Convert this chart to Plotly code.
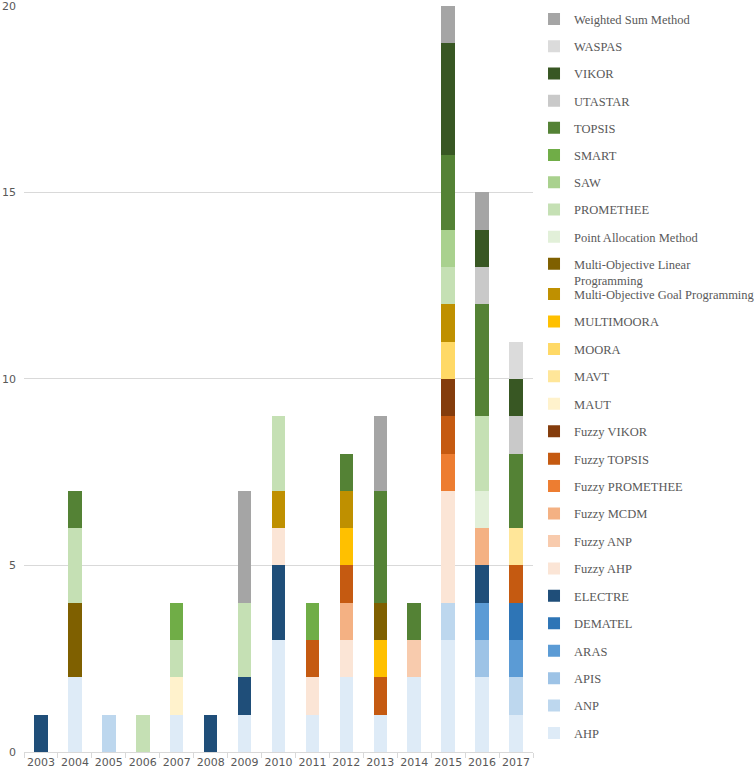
import plotly.graph_objects as go

years = [str(y) for y in range(2003, 2018)]

methods = [
    "AHP", "ANP", "APIS", "ARAS", "DEMATEL", "ELECTRE",
    "Fuzzy AHP", "Fuzzy ANP", "Fuzzy MCDM", "Fuzzy PROMETHEE", "Fuzzy TOPSIS", "Fuzzy VIKOR",
    "MAUT", "MAVT", "MOORA", "MULTIMOORA",
    "Multi-Objective Goal Programming", "Multi-Objective Linear<br>Programming",
    "Point Allocation Method", "PROMETHEE", "SAW", "SMART", "TOPSIS",
    "UTASTAR", "VIKOR", "WASPAS", "Weighted Sum Method",
]

colors = [
    "#DEEBF7", "#BDD7EE", "#9DC3E6", "#5B9BD5", "#2E75B6", "#1F4E79",
    "#FBE5D6", "#F8CBAD", "#F4B183", "#ED7D31", "#C55A11", "#843C0C",
    "#FFF2CC", "#FFE699", "#FFD966", "#FFC000",
    "#BF9000", "#7F6000",
    "#E2F0D9", "#C5E0B4", "#A9D18E", "#70AD47", "#548235",
    "#C9C9C9", "#385723", "#DBDBDB", "#A5A5A5",
]

#                 2003 04 05 06 07 08 09 10 11 12 13 14 15 16 17
AHP              = [0, 2, 0, 0, 1, 0, 1, 3, 1, 2, 1, 2, 3, 2, 1]
ANP              = [0, 0, 1, 0, 0, 0, 0, 0, 0, 0, 0, 0, 1, 0, 1]
APIS             = [0, 0, 0, 0, 0, 0, 0, 0, 0, 0, 0, 0, 0, 1, 0]
ARAS             = [0, 0, 0, 0, 0, 0, 0, 0, 0, 0, 0, 0, 0, 1, 1]
DEMATEL          = [0, 0, 0, 0, 0, 0, 0, 0, 0, 0, 0, 0, 0, 0, 1]
ELECTRE          = [1, 0, 0, 0, 0, 1, 1, 2, 0, 0, 0, 0, 0, 1, 0]
FUZZY_AHP        = [0, 0, 0, 0, 0, 0, 0, 1, 1, 1, 0, 0, 3, 0, 0]
FUZZY_ANP        = [0, 0, 0, 0, 0, 0, 0, 0, 0, 0, 0, 1, 0, 0, 0]
FUZZY_MCDM       = [0, 0, 0, 0, 0, 0, 0, 0, 0, 1, 0, 0, 0, 1, 0]
FUZZY_PROMETHEE  = [0, 0, 0, 0, 0, 0, 0, 0, 0, 0, 0, 0, 1, 0, 0]
FUZZY_TOPSIS     = [0, 0, 0, 0, 0, 0, 0, 0, 1, 1, 1, 0, 1, 0, 1]
FUZZY_VIKOR      = [0, 0, 0, 0, 0, 0, 0, 0, 0, 0, 0, 0, 1, 0, 0]
MAUT             = [0, 0, 0, 0, 1, 0, 0, 0, 0, 0, 0, 0, 0, 0, 0]
MAVT             = [0, 0, 0, 0, 0, 0, 0, 0, 0, 0, 0, 0, 0, 0, 1]
MOORA            = [0, 0, 0, 0, 0, 0, 0, 0, 0, 0, 0, 0, 1, 0, 0]
MULTIMOORA       = [0, 0, 0, 0, 0, 0, 0, 0, 0, 1, 1, 0, 0, 0, 0]
MO_GOAL          = [0, 0, 0, 0, 0, 0, 0, 1, 0, 1, 0, 0, 1, 0, 0]
MO_LINEAR        = [0, 2, 0, 0, 0, 0, 0, 0, 0, 0, 1, 0, 0, 0, 0]
POINT_ALLOCATION = [0, 0, 0, 0, 0, 0, 0, 0, 0, 0, 0, 0, 0, 1, 0]
PROMETHEE        = [0, 2, 0, 1, 1, 0, 2, 2, 0, 0, 0, 0, 1, 2, 0]
SAW              = [0, 0, 0, 0, 0, 0, 0, 0, 0, 0, 0, 0, 1, 0, 0]
SMART            = [0, 0, 0, 0, 1, 0, 0, 0, 1, 0, 0, 0, 0, 0, 0]
TOPSIS           = [0, 1, 0, 0, 0, 0, 0, 0, 0, 1, 3, 1, 2, 3, 2]
UTASTAR          = [0, 0, 0, 0, 0, 0, 0, 0, 0, 0, 0, 0, 0, 1, 1]
VIKOR            = [0, 0, 0, 0, 0, 0, 0, 0, 0, 0, 0, 0, 3, 1, 1]
WASPAS           = [0, 0, 0, 0, 0, 0, 0, 0, 0, 0, 0, 0, 0, 0, 1]
WEIGHTED_SUM     = [0, 0, 0, 0, 0, 0, 3, 0, 0, 0, 2, 0, 1, 1, 0]

series = [
    AHP, ANP, APIS, ARAS, DEMATEL, ELECTRE,
    FUZZY_AHP, FUZZY_ANP, FUZZY_MCDM, FUZZY_PROMETHEE, FUZZY_TOPSIS, FUZZY_VIKOR,
    MAUT, MAVT, MOORA, MULTIMOORA, MO_GOAL, MO_LINEAR,
    POINT_ALLOCATION, PROMETHEE, SAW, SMART, TOPSIS,
    UTASTAR, VIKOR, WASPAS, WEIGHTED_SUM,
]

y_ticks = [0, 5, 10, 15, 20]

# the upper legend block ends with the two-line entry
split_index = methods.index("Multi-Objective Linear<br>Programming")

n = len(methods)
fig = go.Figure()
for i, (name, vals, col) in enumerate(zip(methods, series, colors)):
    fig.add_trace(go.Bar(
        x=years,
        y=[v if v else None for v in vals],
        name=name,
        marker=dict(color=col, line=dict(width=0)),
        legendgroup="g%d" % i,
        legendrank=(n - i) * 10,
        legend="legend" if i >= split_index else "legend2",
    ))

legend_common = dict(
    traceorder="grouped",
    x=1.002, xanchor="left",
    yanchor="top",
    font=dict(family="Liberation Serif", size=12.5, color="#595959"),
    valign="top",
    bgcolor="rgba(0,0,0,0)",
)

fig.update_layout(
    width=754, height=773,
    barmode="stack",
    bargap=0.6,
    hovermode=False,
    plot_bgcolor="white",
    paper_bgcolor="white",
    margin=dict(l=24, r=221, t=5, b=21, autoexpand=False),
    font=dict(family="DejaVu Sans", size=11, color="#595959"),
    legend=dict(legend_common, y=1.0008, tracegroupgap=7.95),
    legend2=dict(legend_common, y=0.6327, tracegroupgap=8.19),
    xaxis=dict(
        type="category",
        showgrid=False,
        showline=True, linecolor="#D9D9D9", linewidth=1,
        ticks="outside", tickson="boundaries", ticklen=5, tickcolor="#D9D9D9",
        tickangle=0, automargin=False,
        tickfont=dict(family="DejaVu Sans", size=11, color="#595959"),
    ),
    yaxis=dict(
        range=[0, 20.02],
        tickvals=y_ticks,
        showgrid=True, gridcolor="#D9D9D9", gridwidth=1,
        zeroline=False, showline=False,
        automargin=False,
        ticklabelstandoff=7,
        ticklabeloverflow="allow",
        tickfont=dict(family="DejaVu Sans", size=11, color="#595959"),
    ),
)

fig.write_html(
    "out.html",
    config={"displayModeBar": False},
    post_script="document.body.style.margin='0';document.body.style.overflow='hidden';",
)
